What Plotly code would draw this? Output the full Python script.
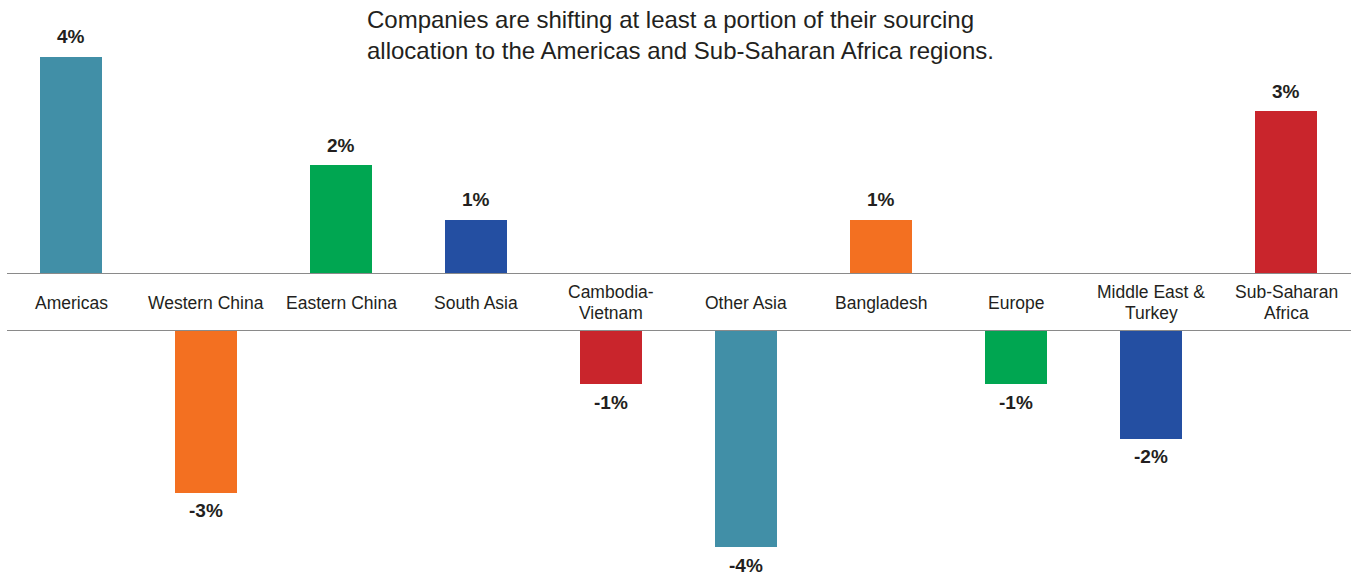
import plotly.graph_objects as go

# Change in sourcing allocation by region (percentage points)
regions = ["Americas", "Western China", "Eastern China", "South Asia",
           "Cambodia-<br>Vietnam", "Other Asia", "Bangladesh", "Europe",
           "Middle East &<br>Turkey", "Sub-Saharan<br>Africa"]
shift_pct = [4, -3, 2, 1, -1, -4, 1, -1, -2, 3]
bar_colors = ["#418FA7", "#F37021", "#00A651", "#244FA2", "#C9252C",
              "#418FA7", "#F37021", "#00A651", "#244FA2", "#C9252C"]
headline = ("Companies are shifting at least a portion of their sourcing<br>"
            "allocation to the Americas and Sub-Saharan Africa regions.")

W, H = 1355, 575
PX_PER_UNIT = 54.3
TOP_BASE_PX = 274      # baseline of the gain panel (pixels from top)
BOT_BASE_PX = 330      # baseline of the loss panel
X_PITCH = 135.0
X_FIRST = 71.0

x_idx = list(range(len(regions)))
x_lo = -X_FIRST / X_PITCH
x_hi = x_lo + W / X_PITCH

pos_x = [i for i, v in zip(x_idx, shift_pct) if v >= 0]
pos_v = [v for v in shift_pct if v >= 0]
pos_c = [c for c, v in zip(bar_colors, shift_pct) if v >= 0]
neg_x = [i for i, v in zip(x_idx, shift_pct) if v < 0]
neg_v = [v for v in shift_pct if v < 0]
neg_c = [c for c, v in zip(bar_colors, shift_pct) if v < 0]

fig = go.Figure()
fig.add_trace(go.Bar(x=pos_x, y=pos_v, marker=dict(color=pos_c, line=dict(width=0)),
                     width=0.46, xaxis="x", yaxis="y", hoverinfo="skip"))
fig.add_trace(go.Bar(x=neg_x, y=neg_v, marker=dict(color=neg_c, line=dict(width=0)),
                     width=0.46, xaxis="x2", yaxis="y2", hoverinfo="skip"))

top_dom = [(H - TOP_BASE_PX) / H, 1.0]
bot_dom = [0.0, (H - BOT_BASE_PX) / H]

hidden = dict(showgrid=False, zeroline=False, showline=False,
              showticklabels=False, ticks="", fixedrange=True)

fig.update_layout(
    width=W, height=H,
    margin=dict(l=0, r=0, t=0, b=0),
    paper_bgcolor="white", plot_bgcolor="white",
    showlegend=False,
    bargap=0,
    xaxis=dict(domain=[0, 1], range=[x_lo, x_hi], anchor="y", **hidden),
    xaxis2=dict(domain=[0, 1], range=[x_lo, x_hi], anchor="y2", matches="x", **hidden),
    yaxis=dict(domain=top_dom, range=[0, TOP_BASE_PX / PX_PER_UNIT], anchor="x", **hidden),
    yaxis2=dict(domain=bot_dom, range=[-(H - BOT_BASE_PX) / PX_PER_UNIT, 0], anchor="x2", **hidden),
)

# Divider lines framing the category band
line_style = dict(color="#8A8A8A", width=2)
for yref in ("y", "y2"):
    fig.add_shape(type="line", xref="paper", yref=yref,
                  x0=7 / W, x1=1351 / W, y0=0, y1=0, line=line_style, layer="above")

label_font = dict(family="Liberation Sans, Arial, Helvetica", size=17.5, color="#231F20")
value_font = dict(family="Liberation Sans, Arial, Helvetica", size=19, color="#231F20")

# Category names centred in the band between the two panels
band_mid_px = 302.5
for i, name in zip(x_idx, regions):
    lines = name.split("<br>")
    n = len(lines)
    for k, line in enumerate(lines):
        y_px = band_mid_px + (k - (n - 1) / 2) * 20.5
        fig.add_annotation(x=i, xref="x", y=(H - y_px) / H, yref="paper",
                           text=line, showarrow=False, font=label_font,
                           xanchor="center", yanchor="middle")

# Value labels at the bar ends
for i, v in zip(x_idx, shift_pct):
    fig.add_annotation(x=i, xref="x" if v >= 0 else "x2",
                       y=v, yref="y" if v >= 0 else "y2",
                       text=f"<b>{v}%</b>", showarrow=False, font=value_font,
                       xanchor="center", yanchor="middle",
                       yshift=20 if v >= 0 else -18)

fig.add_annotation(x=365 / W, xref="paper", y=(H - 35) / H, yref="paper",
                   text=headline, showarrow=False, align="left",
                   xanchor="left", yanchor="middle",
                   font=dict(family="Liberation Sans, Arial, Helvetica", size=24, color="#231F20"))

fig.write_html("out.html")
